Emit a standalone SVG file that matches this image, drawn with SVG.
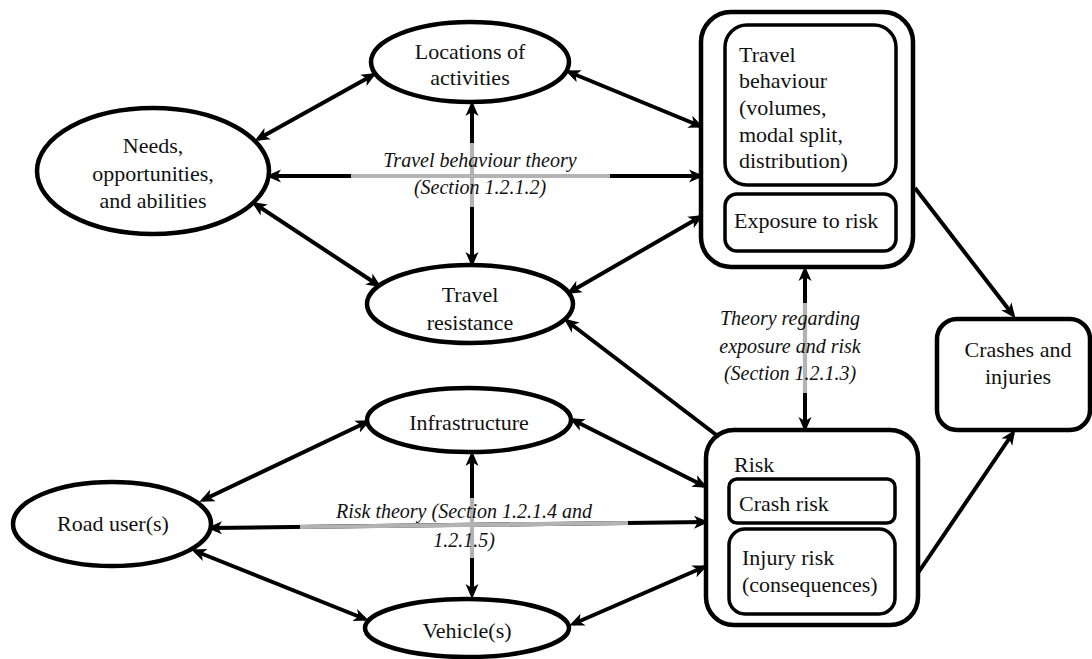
<svg xmlns="http://www.w3.org/2000/svg" width="1092" height="659" viewBox="0 0 1092 659">
<style>
  .node { fill: #ffffff; stroke: #000000; stroke-width: 4.5; }
  .inner { fill: #ffffff; stroke: #000000; stroke-width: 3.5; }
  .t { font-family: "Liberation Serif", "DejaVu Serif", serif; font-size: 22px; fill: #111111; }
  .c { text-anchor: middle; }
  .lab { font-family: "Liberation Serif", "DejaVu Serif", serif; font-size: 20px; font-style: italic; fill: #111111; text-anchor: middle; }
  .ln { fill: none; stroke: #000000; stroke-width: 4; }
  .both { marker-start: url(#ah); marker-end: url(#ah); }
  .end { marker-end: url(#ah); }
  .gray { fill: none; stroke: #b3b3b3; stroke-width: 4.2; }
</style>
<defs>
  <marker id="ah" markerUnits="userSpaceOnUse" markerWidth="16" markerHeight="14" refX="11" refY="6.5" orient="auto-start-reverse" viewBox="0 0 16 13">
    <path d="M0,0 L15,6.5 L0,13 L4,6.5 Z" fill="#000000"/>
  </marker>
</defs>
<rect width="1092" height="659" fill="#ffffff"/>

<g id="connectors">
  <line class="ln both" x1="258" y1="139" x2="373" y2="75"/>
  <line class="ln both" x1="569" y1="72" x2="700" y2="126"/>
  <line class="ln both" x1="270" y1="176" x2="700" y2="176"/>
  <line class="ln both" x1="472" y1="105" x2="472" y2="263"/>
  <line class="ln both" x1="255" y1="204" x2="378" y2="285"/>
  <line class="ln both" x1="570" y1="292" x2="700" y2="217"/>
  <line class="ln end" x1="719" y1="437" x2="567" y2="321"/>
  <line class="ln end" x1="915" y1="188" x2="1013" y2="315"/>
  <line class="ln end" x1="918" y1="573" x2="1013" y2="433"/>
  <line class="ln both" x1="805" y1="270" x2="805" y2="428"/>
  <line class="ln both" x1="203" y1="500" x2="367" y2="422"/>
  <line class="ln both" x1="573" y1="420" x2="704" y2="486"/>
  <line class="ln both" x1="211" y1="528" x2="705" y2="522"/>
  <line class="ln both" x1="472" y1="455" x2="472" y2="595"/>
  <line class="ln both" x1="195" y1="551" x2="365" y2="619"/>
  <line class="ln both" x1="573" y1="624" x2="704" y2="567"/>
  <line class="gray" x1="351" y1="176" x2="610" y2="176"/>
  <line class="gray" x1="472" y1="143" x2="472" y2="207"/>
  <line class="gray" x1="805" y1="303" x2="805" y2="393"/>
  <line class="gray" x1="300" y1="527" x2="628" y2="523"/>
  <line class="gray" x1="472" y1="498" x2="472" y2="558"/>
  <text class="lab" x="480" y="167">Travel behaviour theory</text>
  <text class="lab" x="480" y="194">(Section 1.2.1.2)</text>
  <text class="lab" x="790" y="325">Theory regarding</text>
  <text class="lab" x="790" y="353">exposure and risk</text>
  <text class="lab" x="790" y="380">(Section 1.2.1.3)</text>
  <text class="lab" x="464" y="518">Risk theory (Section 1.2.1.4 and</text>
  <text class="lab" x="464" y="547">1.2.1.5)</text>
</g>

<g id="locations">
  <ellipse class="node" cx="470" cy="62" rx="99" ry="40"/>
  <text class="t c" x="470" y="59">Locations of</text>
  <text class="t c" x="470" y="85">activities</text>
</g>
<g id="needs">
  <ellipse class="node" cx="153" cy="171" rx="116" ry="63"/>
  <text class="t c" x="153" y="153">Needs,</text>
  <text class="t c" x="153" y="181">opportunities,</text>
  <text class="t c" x="153" y="208">and abilities</text>
</g>
<g id="travel-resistance">
  <ellipse class="node" cx="470" cy="304" rx="103" ry="39"/>
  <text class="t c" x="470" y="302">Travel</text>
  <text class="t c" x="470" y="330">resistance</text>
</g>
<g id="travel-behaviour-group">
  <rect class="node" x="701" y="12" width="212" height="255" rx="30"/>
  <g id="travel-behaviour">
    <rect class="inner" x="725" y="25" width="171" height="160" rx="22"/>
    <text class="t" x="739" y="62">Travel</text>
    <text class="t" x="739" y="88">behaviour</text>
    <text class="t" x="739" y="115">(volumes,</text>
    <text class="t" x="739" y="142">modal split,</text>
    <text class="t" x="739" y="168">distribution)</text>
  </g>
  <g id="exposure">
    <rect class="inner" x="725" y="194" width="171" height="57" rx="12"/>
    <text class="t" x="734" y="228">Exposure to risk</text>
  </g>
</g>
<g id="crashes">
  <rect class="node" x="937" y="319" width="153" height="111" rx="20"/>
  <text class="t c" x="1018" y="357">Crashes and</text>
  <text class="t c" x="1018" y="384">injuries</text>
</g>
<g id="infrastructure">
  <ellipse class="node" cx="469" cy="420" rx="102" ry="32"/>
  <text class="t c" x="469" y="430">Infrastructure</text>
</g>
<g id="road-users">
  <ellipse class="node" cx="112" cy="524" rx="99" ry="42"/>
  <text class="t c" x="113" y="531">Road user(s)</text>
</g>
<g id="vehicles">
  <ellipse class="node" cx="467" cy="628" rx="102" ry="29"/>
  <text class="t c" x="467" y="638">Vehicle(s)</text>
</g>
<g id="risk-group">
  <rect class="node" x="706" y="430" width="212" height="195" rx="28"/>
  <text class="t" x="734" y="472">Risk</text>
  <g id="crash-risk">
    <rect class="inner" x="729" y="479" width="166" height="44" rx="8"/>
    <text class="t" x="739" y="511">Crash risk</text>
  </g>
  <g id="injury-risk">
    <rect class="inner" x="729" y="529" width="166" height="85" rx="16"/>
    <text class="t" x="742" y="565">Injury risk</text>
    <text class="t" x="742" y="592">(consequences)</text>
  </g>
</g>
</svg>
